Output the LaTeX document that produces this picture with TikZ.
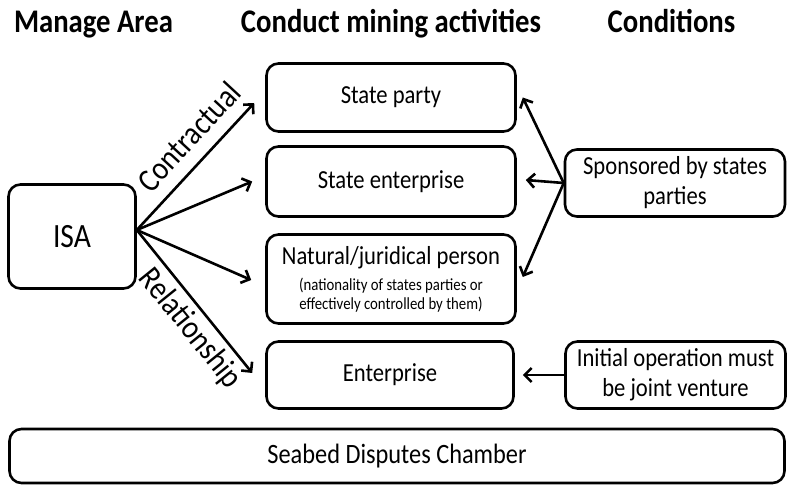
\documentclass[tikz,border=0pt]{standalone}
\usepackage{fontspec}
\setmainfont{Carlito}[FakeStretch=0.87]
\usepackage{tikz}
\usetikzlibrary{arrows.meta}

\tikzset{
	box/.style={draw, rounded corners=12pt, line width=2.6pt, inner sep=0pt, align=center, font=\fontsize{26}{30}\selectfont},
	hdr/.style={anchor=base, font=\fontsize{33}{36}\selectfont\bfseries},
	arr/.style={line width=2.6pt, -{Straight Barb[length=7pt,width=14pt,line width=2.6pt]}},
	lbl/.style={font=\fontsize{33}{36}\selectfont, sloped}
}

\begin{document}
\begin{tikzpicture}[x=1pt,y=-1pt]
	\useasboundingbox (0,0) rectangle (788,486);

	% column headings
	\node[hdr] (hmanage) at (93.5,33) {Manage Area};
	\node[hdr] (hconduct) at (391,33) {Conduct mining activities};
	\node[hdr] (hcond) at (671.5,33) {Conditions};

	% left: the authority
	\node[box, minimum width=127pt, minimum height=104pt, font=\fontsize{34}{38}\selectfont] (isa) at (72,236.5) {\raisebox{-4pt}{ISA}};

	% middle: who conducts the activities
	\node[box, minimum width=249pt, minimum height=68pt] (sp) at (391,97.5) {State party};
	\node[box, minimum width=249pt, minimum height=70pt] (se) at (391,181.5) {State enterprise};
	\node[box, minimum width=249pt, minimum height=89pt] (np) at (391,279) {Natural/juridical person\\[-4pt]
		{\fontsize{17}{19}\selectfont (nationality of states parties or}\\[-11pt]
		{\fontsize{17}{19}\selectfont effectively controlled by them)}};
	\node[box, minimum width=247pt, minimum height=67pt] (en) at (390,375) {Enterprise};

	% right: conditions
	\node[box, minimum width=220pt, minimum height=67pt] (spon) at (675,183) {Sponsored by states\\parties};
	\node[box, minimum width=220pt, minimum height=67pt] (init) at (675.5,375) {Initial operation must\\be joint venture};

	% bottom
	\node[box, minimum width=775pt, minimum height=54pt, font=\fontsize{28}{32}\selectfont] (sdc) at (397,456) {Seabed Disputes Chamber};

	% arrows out of the ISA
	\draw[arr] ([yshift=6.5pt]isa.east) -- ([xshift=-11pt,yshift=-5.5pt]sp.west)
		node[lbl, pos=0.6, above=9pt] {Contractual};
	\draw[arr] ([yshift=6.5pt]isa.east) -- ([xshift=-13pt]se.west);
	\draw[arr] ([yshift=6.5pt]isa.east) -- ([xshift=-14pt,yshift=-1pt]np.west);
	\draw[arr] ([yshift=6.5pt]isa.east) -- ([xshift=-13pt,yshift=2pt]en.west)
		node[lbl, pos=0.6, below=2pt] {Relationship};

	% arrows out of the conditions
	\draw[arr] (spon.west) -- ([xshift=6pt]sp.east);
	\draw[arr] (spon.west) -- ([xshift=9pt,yshift=1.5pt]se.east);
	\draw[arr] (spon.west) -- ([xshift=6pt,yshift=2pt]np.east);
	\draw[arr] (init.west) -- ([xshift=8pt]en.east);
\end{tikzpicture}
\end{document}
